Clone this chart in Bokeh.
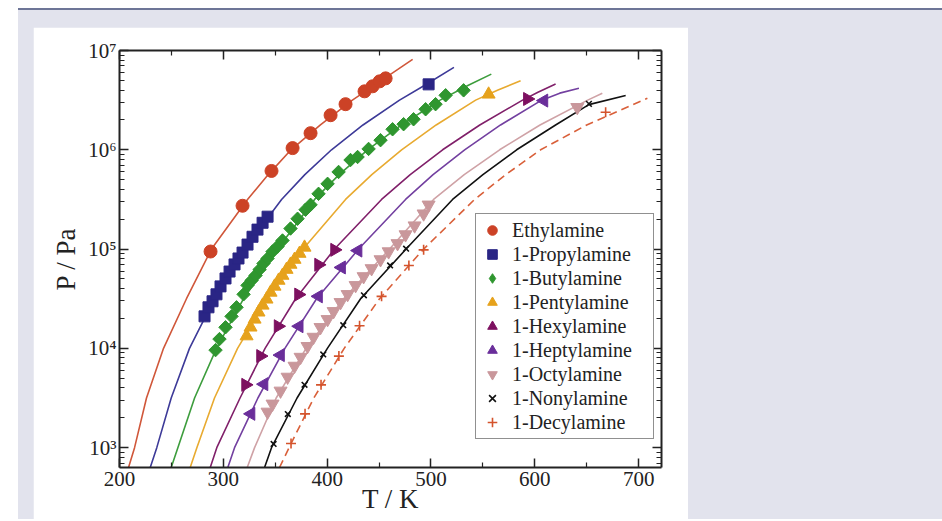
import math
from bokeh.plotting import figure
from bokeh.layouts import column
from bokeh.models import (LinearAxis, LogAxis, FixedTicker, Legend, LegendItem,
                          CustomJSTickFormatter, Range1d)
from bokeh.embed import file_html
from bokeh.resources import INLINE

# ---------------- data ----------------
names = ["Ethylamine", "1-Propylamine", "1-Butylamine", "1-Pentylamine", "1-Hexylamine",
         "1-Heptylamine", "1-Octylamine", "1-Nonylamine", "1-Decylamine"]

# fitted curves: temperature (K) read at pressure levels (Pa)
lvl = [631, 1e3, 3162, 1e4, 31623, 1e5, 316228, 562341, 1e6, 1778279, 3162278]
eth_line_T = [208.7, 214.5, 226.0, 242.4, 264.5, 288.6, 323.3, 343.3, 365.2, 393.5, 424.3, 459.5, 482.3]
eth_line_P = lvl + [5.62e6, 8.13e6]
pro_line_T = [229.6, 235.9, 249.8, 267.4, 291.5, 320.4, 356.1, 378.5, 404.2, 434.5, 469.7, 494.0, 522.1]
pro_line_P = lvl + [4.47e6, 6.76e6]
but_line_T = [249.8, 256.2, 272.3, 293.4, 319.5, 352.2, 387.9, 411.5, 439.0, 471.5, 508.8, 536.0, 558.1]
but_line_P = lvl + [4.47e6, 5.78e6]
pen_line_T = [268.1, 274.5, 291.5, 313.7, 342.1, 376.8, 417.7, 443.0, 471.7, 505.0, 543.0, 564.0, 586.3]
pen_line_P = lvl + [3.98e6, 4.97e6]
hex_line_T = [287.4, 293.7, 316.1, 340.2, 369.6, 407.1, 452.4, 480.0, 511.2, 547.0, 588.2, 603.0, 620.0]
hex_line_P = lvl + [3.80e6, 4.59e6]
hep_line_T = [304.3, 310.8, 333.3, 359.3, 389.8, 430.3, 475.5, 502.0, 532.4, 567.0, 606.6, 624.0, 642.5]
hep_line_P = lvl + [3.72e6, 4.16e6]
oct_line_T = [323.0, 330.1, 350.9, 379.7, 415.8, 460.1, 502.5, 532.0, 566.1, 605.0, 650.9, 665.0]
oct_line_P = lvl + [3.71e6]
non_line_T = [339.7, 346.4, 371.0, 400.2, 432.2, 476.0, 520.8, 550.0, 582.5, 620.0, 652.0, 687.5]
non_line_P = lvl[:10] + [2.85e6, 3.52e6]
dec_line_T = [354.1, 363.3, 387.1, 416.4, 450.5, 492.9, 542.0, 572.0, 605.6, 650.0, 708.4]
dec_line_P = lvl[:10] + [3.30e6]

# experimental points
eth_T = [287.7, 318.5, 346.4, 366.7, 384.0, 403.3, 417.7, 436.0, 443.7, 450.5, 456.3]
eth_P = [9.45e4, 2.73e5, 6.12e5, 1.04e6, 1.47e6, 2.23e6, 2.88e6, 3.88e6, 4.36e6, 4.89e6, 5.24e6]
pro_T = [281.9, 285.7, 289.6, 293.4, 297.3, 302.1, 306.0, 310.8, 314.6, 318.5, 323.3, 328.1,
         332.9, 337.8, 342.6, 497.7]
pro_P = [2.10e4, 2.59e4, 2.98e4, 3.50e4, 4.21e4, 5.06e4, 5.94e4, 7.00e4, 8.04e4, 9.22e4,
         1.11e5, 1.33e5, 1.57e5, 1.84e5, 2.12e5, 4.56e6]
but_T = [292.5, 296.3, 302.1, 307.9, 312.7, 319.5, 323.3, 327.2, 331.0, 334.9, 338.7, 342.6,
         347.4, 352.2, 357.0, 364.7, 371.5, 379.2, 384.0, 391.7, 400.4, 411.0, 422.5, 429.3,
         439.9, 451.4, 463.0, 473.6, 483.2, 494.8, 504.4, 514.1, 531.4]
but_P = [9.6e3, 1.24e4, 1.63e4, 2.10e4, 2.59e4, 3.50e4, 4.31e4, 4.83e4, 5.42e4, 6.22e4,
         7.16e4, 8.04e4, 9.44e4, 1.06e5, 1.22e5, 1.61e5, 2.02e5, 2.49e5, 2.79e5, 3.60e5,
         4.54e5, 5.98e5, 7.89e5, 8.46e5, 1.02e6, 1.25e6, 1.61e6, 1.81e6, 2.03e6, 2.56e6,
         2.88e6, 3.54e6, 3.97e6]
pen_T = [322.4, 326.2, 330.1, 333.9, 337.8, 341.6, 345.5, 349.3, 353.2, 357.0, 360.9, 364.7,
         368.6, 373.4, 378.2, 555.5]
pen_P = [1.33e4, 1.63e4, 1.96e4, 2.31e4, 2.71e4, 3.12e4, 3.66e4, 4.21e4, 4.83e4, 5.42e4,
         6.22e4, 7.00e4, 7.85e4, 9.02e4, 1.04e5, 3.62e6]
hex_T = [321.4, 335.8, 352.7, 372.4, 391.7, 407.1, 592.8]
hex_P = [4.29e3, 8.36e3, 1.67e4, 3.48e4, 6.95e4, 9.82e4, 3.25e6]
hep_T = [326.7, 339.2, 355.1, 373.1, 391.7, 413.9, 429.8, 608.8]
hep_P = [2.19e3, 4.36e3, 8.55e3, 1.67e4, 3.34e4, 6.53e4, 9.66e4, 3.13e6]
oct_T = [342.6, 347.4, 355.1, 361.9, 368.6, 374.4, 381.1, 386.9, 393.6, 400.4, 406.2, 412.9,
         419.7, 427.4, 435.1, 442.8, 451.4, 459.2, 467.8, 475.5, 484.2, 492.9, 497.7, 640.9]
oct_P = [2.29e3, 2.76e3, 3.73e3, 5.15e3, 6.64e3, 8.17e3, 1.05e4, 1.30e4, 1.63e4, 1.96e4,
         2.36e4, 2.91e4, 3.50e4, 4.31e4, 5.30e4, 6.38e4, 7.85e4, 9.44e4, 1.14e5, 1.40e5,
         1.72e5, 2.27e5, 2.79e5, 2.68e6]
non_T = [348.4, 362.1, 378.2, 396.2, 415.5, 435.4, 460.6, 476.0, 652.1]
non_P = [1.09e3, 2.18e3, 4.29e3, 8.69e3, 1.71e4, 3.42e4, 6.84e4, 1.01e5, 2.90e6]
dec_T = [365.2, 378.7, 394.1, 411.3, 431.2, 452.4, 478.7, 492.9, 668.2]
dec_P = [1.10e3, 2.19e3, 4.29e3, 8.36e3, 1.69e4, 3.34e4, 6.84e4, 9.82e4, 2.39e6]

x_ticks = [200, 300, 400, 500, 600, 700]
x_minor = [250, 350, 450, 550, 650]
y_ticks = [1e3, 1e4, 1e5, 1e6, 1e7]
y_minor = [m * 10 ** e for e in range(2, 7) for m in range(2, 10) if m * 10 ** e >= 631]

# ---------------- styling ----------------
FONT = "Liberation Serif"
INK = "#222222"
colors = ["#cc4226", "#2a2585", "#2f962f", "#e6a21c", "#7d1060", "#6a2e9a", "#c9979b",
          "#111111", "#d4532c"]
line_colors = ["#d0573a", "#3d3a98", "#3d9d3d", "#e8aa30", "#80206a", "#7340a0", "#cfa2a6",
               "#111111", "#d9603a"]
markers = ["circle", "square", "square", "triangle", "triangle", "triangle",
           "inverted_triangle", "x", "cross"]
legend_markers = ["circle", "square", "diamond", "triangle", "triangle", "triangle",
                  "inverted_triangle", "x", "cross"]
angles = [0, 0, math.pi / 4, 0, -math.pi / 2, math.pi / 2, 0, 0, 0]
sizes = [13, 11, 9.5, 13, 13, 13, 13, 8, 10]

p = figure(width=655, height=494, x_range=Range1d(200, 722), y_range=Range1d(631, 1e7),
           y_axis_type="log", output_backend="svg", toolbar_location=None,
           min_border_left=86, min_border_right=27, min_border_top=23, min_border_bottom=54)
p.border_fill_color = "white"
p.background_fill_color = "white"
p.outline_line_color = None
p.xgrid.visible = False
p.ygrid.visible = False
p.margin = (17, 0, 0, 15)

xtick = FixedTicker(ticks=x_ticks, minor_ticks=x_minor)
ytick = FixedTicker(ticks=y_ticks, minor_ticks=y_minor)
sup_fmt = CustomJSTickFormatter(code="""
const e = Math.round(Math.log10(tick));
const s = {3:'\u00b3', 4:'\u2074', 5:'\u2075', 6:'\u2076', 7:'\u2077'};
return '10' + s[e];
""")

xa = p.xaxis[0]
ya = p.yaxis[0]
xa.ticker = xtick
ya.ticker = ytick
ya.formatter = sup_fmt
top = LinearAxis(ticker=xtick, formatter=CustomJSTickFormatter(code="return ''"))
right = LogAxis(ticker=ytick, formatter=CustomJSTickFormatter(code="return ''"))
p.add_layout(top, "above")
p.add_layout(right, "right")
for ax in [xa, ya, top, right]:
    ax.axis_line_width = 2
    ax.axis_line_color = INK
    ax.major_tick_in = 9
    ax.major_tick_out = 0
    ax.minor_tick_in = 5
    ax.minor_tick_out = 0
    ax.major_tick_line_width = 1.5
    ax.major_tick_line_color = INK
    ax.minor_tick_line_width = 1.2
    ax.minor_tick_line_color = INK
    ax.major_label_text_font = FONT
    ax.major_label_text_color = INK
xa.major_label_text_font_size = "21px"
xa.major_label_standoff = 4
ya.major_label_text_font_size = "21px"
ya.major_label_standoff = 3
top.major_label_text_font_size = "1px"
right.major_label_text_font_size = "1px"

xa.axis_label = "T / K"
ya.axis_label = "P / Pa"
for ax in (xa, ya):
    ax.axis_label_text_font = FONT
    ax.axis_label_text_font_size = "27px"
    ax.axis_label_text_font_style = "normal"
    ax.axis_label_text_color = INK
xa.axis_label_standoff = -5
ya.axis_label_standoff = 4

# ---------------- curves ----------------
lines = [(eth_line_T, eth_line_P), (pro_line_T, pro_line_P), (but_line_T, but_line_P),
         (pen_line_T, pen_line_P), (hex_line_T, hex_line_P), (hep_line_T, hep_line_P),
         (oct_line_T, oct_line_P), (non_line_T, non_line_P), (dec_line_T, dec_line_P)]
points = [(eth_T, eth_P), (pro_T, pro_P), (but_T, but_P), (pen_T, pen_P), (hex_T, hex_P),
          (hep_T, hep_P), (oct_T, oct_P), (non_T, non_P), (dec_T, dec_P)]

for i, (lt, lp) in enumerate(lines):
    p.line(lt, lp, line_color=line_colors[i], line_width=1.6,
           line_dash="8 5" if i == 8 else "solid")

items = []
for i, (t, pr) in enumerate(points):
    lw = 1.6 if markers[i] in ("x", "cross") else 1
    legend_r = None
    if legend_markers[i] != markers[i]:
        # diamond glyph lying fully under the rotated squares; used by the legend
        legend_r = p.scatter(t, pr, marker=legend_markers[i], size=12,
                             fill_color=colors[i], line_color=colors[i], line_width=1)
    r = p.scatter(t, pr, marker=markers[i], size=sizes[i], angle=angles[i],
                  fill_color=colors[i], line_color=colors[i], line_width=lw)
    items.append(LegendItem(label=names[i], renderers=[legend_r if legend_r is not None else r]))

legend = Legend(items=items, location=(356, 28))
legend.border_line_color = INK
legend.border_line_width = 1
legend.background_fill_color = "white"
legend.background_fill_alpha = 1
legend.label_text_font = FONT
legend.label_text_font_size = "20px"
legend.label_text_color = INK
legend.glyph_width = 24
legend.glyph_height = 24
legend.label_height = 24
legend.label_width = 137
legend.label_standoff = 8
legend.spacing = 0
legend.padding = 4
legend.margin = 0
p.add_layout(legend)

page = column(p, width=924, height=511, margin=(8, 0, 0, 18),
              styles={"background-color": "#e2e3ed", "border-top": "2px solid #6d7597"})

open("out.html", "w").write(file_html(page, INLINE))
